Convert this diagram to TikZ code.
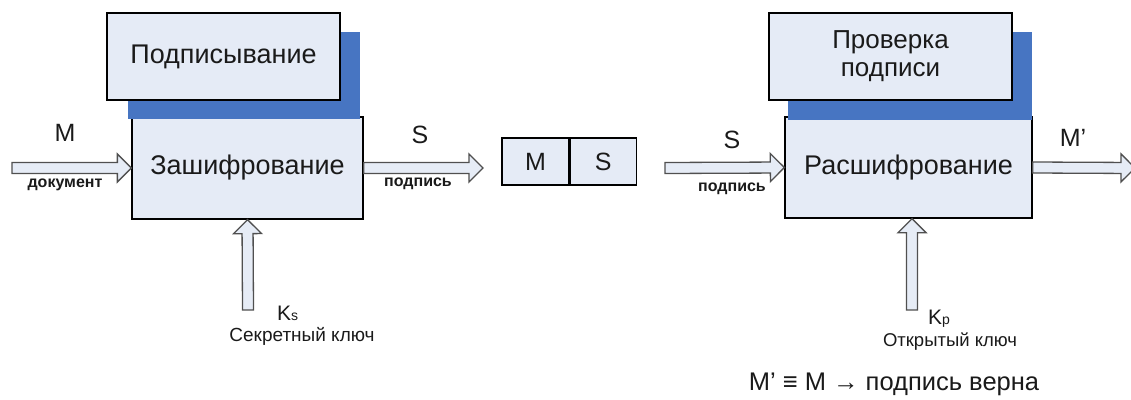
\documentclass[tikz,border=0pt]{standalone}
\usepackage{fontspec}
\setmainfont{Liberation Sans}
\usetikzlibrary{calc}
\definecolor{boxfill}{HTML}{E5EBF6}
\definecolor{shadowblue}{HTML}{4775C2}
\definecolor{arrowline}{HTML}{505050}
\definecolor{arrowfill}{HTML}{E6ECF6}
\definecolor{txt}{HTML}{1A1A1A}
\newcommand\fsz[1]{\fontsize{#1}{#1}\selectfont}
\newcommand\blockarrow[2]{%
  \path ($(#2)!14pt!(#1)$) coordinate (bah);
  \draw[barrow] ($(#1)!5.5pt!90:(#2)$) -- ($(bah)!5.5pt!90:(#2)$) -- ($(bah)!14pt!90:(#2)$) -- (#2)
    -- ($(bah)!14pt!-90:(#2)$) -- ($(bah)!5.5pt!-90:(#2)$) -- ($(#1)!5.5pt!-90:(#2)$) -- cycle;
}
\begin{document}
\begin{tikzpicture}[x=1pt,y=-1pt,
  box/.style={draw=black, line width=1.3pt, fill=boxfill, inner sep=0pt, text=txt, align=center, font=\fsz{27}},
  shadowbox/.style={fill=shadowblue, inner sep=0pt, draw=none},
  barrow/.style={draw=arrowline, line width=1.3pt, fill=arrowfill, line join=miter},
  lbl/.style={inner sep=0pt, text=txt},
  small/.style={lbl, font=\fsz{16}\bfseries},
]
\useasboundingbox (0,0) rectangle (1131,399);
% left block
\node[box, minimum width=231pt, minimum height=102pt] (enc) at (247.5,168) {Зашифрование};
\node[shadowbox, minimum width=232pt, minimum height=87pt] (encsh) at (244,75.5) {};
\node[box, minimum width=233pt, minimum height=87pt] (sign) at (223.5,56.5) {Подписывание};
% right block
\node[box, minimum width=247pt, minimum height=101pt] (dec) at (908.5,167.5) {Расшифрование};
\node[shadowbox, minimum width=244pt, minimum height=88pt] (decsh) at (910,76) {};
\node[box, minimum width=243pt, minimum height=87pt, font=\fsz{26}] (ver) at (890.5,56.5) {Проверка\\[2pt]подписи};
% M | S box
\node[box, minimum width=67pt, minimum height=47pt, font=\fsz{25}] (msM) at (535.5,161.5) {M};
\node[box, minimum width=66pt, minimum height=47pt, font=\fsz{25}, anchor=west] (msS) at (msM.east) {S};
% coordinates
\coordinate (inM) at (12,168);
\coordinate (outS) at (483,168);
\coordinate (inS) at (665,168);
\coordinate (outM) at (1135,168);
\coordinate (ks) at (248,310);
\coordinate (kp) at (912,310);
% arrows
\blockarrow{inM}{enc.west}
\blockarrow{enc.east}{outS}
\blockarrow{inS}{dec.west}
\blockarrow{dec.east}{outM}
\blockarrow{ks}{enc.south}
\blockarrow{kp}{kp |- dec.south}
% labels
\node[lbl, font=\fsz{25}] (lM) at (65,133) {M};
\node[small] (ldoc) at (65,185) {документ};
\node[lbl, font=\fsz{25}] (lS1) at (420,135) {S};
\node[small] (lsig1) at (418,184) {подпись};
\node[lbl, font=\fsz{25}] (lS2) at (732,140) {S};
\node[small] (lsig2) at (732,189) {подпись};
\node[lbl, font=\fsz{25}] (lM2) at (1073,138) {M’};
\node[lbl, font=\fsz{21}, anchor=base west] (lKs) at (277,320) {K{\fsz{14}s}};
\node[lbl, font=\fsz{19}] (lsec) at (302,336) {Секретный ключ};
\node[lbl, font=\fsz{21}, anchor=base west] (lKp) at (928,324) {K{\fsz{14}p}};
\node[lbl, font=\fsz{18.5}] (lpub) at (950,342) {Открытый ключ};
\node[lbl, font=\fsz{25.5}] (lres) at (894,384) {M’ ≡ M → подпись верна};
\end{tikzpicture}
\end{document}
